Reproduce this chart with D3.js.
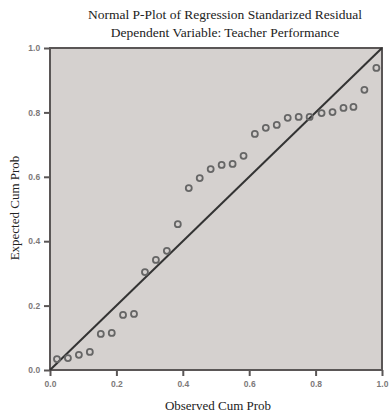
<!DOCTYPE html>
<html>
<head>
<meta charset="utf-8">
<script src="https://cdn.jsdelivr.net/npm/d3@7"></script>
<style>
  html, body { margin: 0; padding: 0; background: #fff; }
  svg { display: block; }
</style>
</head>
<body>
<div id="pp-plot"></div>
<script>
// Normal P-P plot of regression standardized residual

const OBSERVED = [0.021, 0.054, 0.087, 0.120, 0.153, 0.186, 0.220, 0.253, 0.286, 0.319,
                  0.352, 0.385, 0.418, 0.451, 0.484, 0.517, 0.550, 0.583, 0.617, 0.650,
                  0.683, 0.716, 0.749, 0.782, 0.818, 0.851, 0.884, 0.914, 0.947, 0.983];
const EXPECTED = [0.034, 0.037, 0.047, 0.056, 0.112, 0.115, 0.171, 0.174, 0.304, 0.342,
                  0.370, 0.453, 0.565, 0.596, 0.624, 0.637, 0.640, 0.665, 0.733, 0.752,
                  0.761, 0.783, 0.786, 0.786, 0.798, 0.801, 0.814, 0.817, 0.870, 0.938];
const TICKS = [0, 0.2, 0.4, 0.6, 0.8, 1.0];
const TITLE = ["Normal P-Plot of Regression Standarized Residual",
               "Dependent Variable: Teacher Performance"];

const totalW = 389, totalH = 415;
const margin = { top: 48, right: 7, bottom: 45, left: 50 };
const W = totalW - margin.left - margin.right;
const H = totalH - margin.top - margin.bottom;

const svg = d3.select("#pp-plot").append("svg")
  .attr("width", totalW).attr("height", totalH);

const g = svg.append("g").attr("transform", `translate(${margin.left},${margin.top})`);

const x = d3.scaleLinear().domain([0, 1]).range([0, W]);
const y = d3.scaleLinear().domain([0, 1]).range([H, 0]);

/* plot area */
g.append("rect").attr("width", W).attr("height", H)
  .attr("fill", "#d5d1cf").attr("stroke", "#5a5656").attr("stroke-width", 2);

/* axes */
const tickFmt = d3.format(".1f");
g.append("g").attr("transform", `translate(0,${H})`)
  .call(d3.axisBottom(x).tickValues(TICKS).tickFormat(tickFmt).tickSize(6).tickSizeOuter(0))
  .call(ax => { ax.select(".domain").remove();
                ax.selectAll("line").attr("stroke", "#5a5656").attr("stroke-width", 2); })
  .selectAll("text").attr("font-family", "Arial, 'Liberation Sans', sans-serif")
  .attr("font-size", 8.5).attr("font-weight", "bold").attr("fill", "#7d7979").attr("dy", "0.9em");

g.append("g")
  .call(d3.axisLeft(y).tickValues(TICKS).tickFormat(tickFmt).tickSize(6).tickSizeOuter(0))
  .call(ax => { ax.select(".domain").remove();
                ax.selectAll("line").attr("stroke", "#5a5656").attr("stroke-width", 2); })
  .selectAll("text").attr("font-family", "Arial, 'Liberation Sans', sans-serif")
  .attr("font-size", 8.5).attr("font-weight", "bold").attr("fill", "#7d7979").attr("dx", "-0.1em");

/* reference diagonal */
g.append("line")
  .attr("x1", x(0)).attr("y1", y(0)).attr("x2", x(1)).attr("y2", y(1))
  .attr("stroke", "#333").attr("stroke-width", 2);

/* points */
const points = OBSERVED.map((o, i) => ({ o, e: EXPECTED[i] }));
g.selectAll("circle.pt").data(points).join("circle")
  .attr("class", "pt")
  .attr("cx", d => x(d.o)).attr("cy", d => y(d.e))
  .attr("r", 3)
  .attr("fill", "none").attr("stroke", "#666").attr("stroke-width", 1.8);

/* titles */
svg.selectAll("text.title").data(TITLE).join("text")
  .attr("class", "title")
  .attr("x", 225).attr("y", (d, i) => 19 + i * 18)
  .attr("text-anchor", "middle")
  .attr("font-family", "'Liberation Serif', 'Times New Roman', serif")
  .attr("font-size", 13.5).attr("fill", "#222")
  .text(d => d);

svg.append("text")
  .attr("x", 218).attr("y", 410)
  .attr("text-anchor", "middle")
  .attr("font-family", "'Liberation Serif', 'Times New Roman', serif")
  .attr("font-size", 13).attr("fill", "#222")
  .text("Observed Cum Prob");

svg.append("text")
  .attr("transform", "rotate(-90)").attr("x", -208).attr("y", 19)
  .attr("text-anchor", "middle")
  .attr("font-family", "'Liberation Serif', 'Times New Roman', serif")
  .attr("font-size", 13).attr("fill", "#222")
  .text("Expected Cum Prob");
</script>
</body>
</html>
